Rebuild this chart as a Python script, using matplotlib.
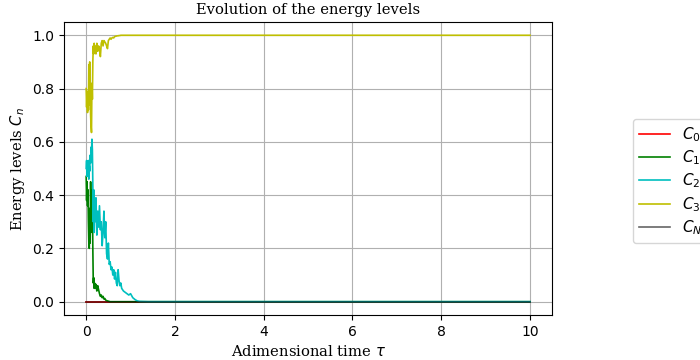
import matplotlib
matplotlib.use("Agg")
import matplotlib.pyplot as plt

# Time samples (finer at the start where the populations fluctuate)
t = [0.00, 0.01, 0.02, 0.03, 0.04, 0.05, 0.06, 0.07, 0.08, 0.09, 0.10,
     0.11, 0.12, 0.13, 0.14, 0.15, 0.16, 0.17, 0.18, 0.19, 0.20,
     0.22, 0.24, 0.26, 0.28, 0.30, 0.32, 0.34, 0.36, 0.38, 0.40,
     0.42, 0.44, 0.46, 0.48, 0.50, 0.52, 0.54, 0.56, 0.58, 0.60,
     0.62, 0.64, 0.66, 0.68, 0.70, 0.72, 0.74, 0.76, 0.78, 0.80,
     0.84, 0.88, 0.92, 0.96, 1.00, 1.05, 1.10, 1.15, 1.20, 1.40, 2.0, 10.0]

c0 = [0.0] * len(t)

c1 = [0.47, 0.38, 0.45, 0.36, 0.42, 0.30, 0.22, 0.20, 0.35, 0.22, 0.45,
      0.30, 0.42, 0.26, 0.38, 0.20, 0.07, 0.09, 0.05, 0.07, 0.05,
      0.065, 0.04, 0.06, 0.045, 0.03, 0.02, 0.025, 0.015, 0.02, 0.01,
      0.012, 0.006, 0.004, 0.003, 0.002, 0.001, 0.0, 0.0, 0.0, 0.0,
      0.0, 0.0, 0.0, 0.0, 0.0, 0.0, 0.0, 0.0, 0.0, 0.0,
      0.0, 0.0, 0.0, 0.0, 0.0, 0.0, 0.0, 0.0, 0.0, 0.0, 0.0, 0.0]

c2 = [0.50, 0.53, 0.47, 0.52, 0.48, 0.53, 0.46, 0.51, 0.49, 0.55, 0.52,
      0.58, 0.56, 0.61, 0.57, 0.44, 0.30, 0.42, 0.26, 0.36, 0.30,
      0.39, 0.25, 0.34, 0.28, 0.36, 0.27, 0.30, 0.21, 0.26, 0.34,
      0.24, 0.30, 0.18, 0.16, 0.22, 0.14, 0.15, 0.12, 0.13, 0.10,
      0.12, 0.085, 0.11, 0.07, 0.06, 0.12, 0.08, 0.06, 0.07, 0.05,
      0.04, 0.035, 0.03, 0.025, 0.03, 0.015, 0.008, 0.003, 0.001, 0.0, 0.0, 0.0]

c3 = [0.80, 0.73, 0.79, 0.71, 0.76, 0.72, 0.89, 0.74, 0.90, 0.78, 0.70,
      0.66, 0.635, 0.82, 0.76, 0.90, 0.96, 0.93, 0.97, 0.94, 0.96,
      0.93, 0.97, 0.94, 0.96, 0.95, 0.92, 0.97, 0.98, 0.96, 0.98,
      0.975, 0.97, 0.96, 0.95, 0.98, 0.985, 0.99, 0.985, 0.99, 0.992,
      0.99, 0.995, 0.996, 0.997, 0.998, 0.998, 0.999, 0.999, 1.0, 1.0,
      1.0, 1.0, 1.0, 1.0, 1.0, 1.0, 1.0, 1.0, 1.0, 1.0, 1.0, 1.0]

cN = [0.0] * len(t)

series = [c0, c1, c2, c3, cN]
labels = ["$C_0$", "$C_1$", "$C_2$", "$C_3$", "$C_N$"]
colors = ["r", "g", "c", "y", "k"]
alphas = [1.0, 1.0, 1.0, 1.0, 0.6]

fig = plt.figure(figsize=(7, 3.6), dpi=100)
ax = fig.add_axes([0.0914, 0.125, 0.6975, 0.814])

for vals, lab, col, a in zip(series, labels, colors, alphas):
    ax.plot(t, vals, color=col, lw=1.2, alpha=a, label=lab)

ax.grid(True)
ax.set_title("Evolution of the energy levels", family="DejaVu Serif", fontsize=10.6)
ax.set_xlabel(r"Adimensional time $\tau$", family="DejaVu Serif", fontsize=10.6)
ax.set_ylabel(r"Energy levels $C_n$", family="DejaVu Serif", fontsize=10.6)
ax.legend(loc="center left", bbox_to_anchor=(1.15, 0.457), fontsize=11,
          labelspacing=0.3)

fig.savefig("out.png", dpi=100)
